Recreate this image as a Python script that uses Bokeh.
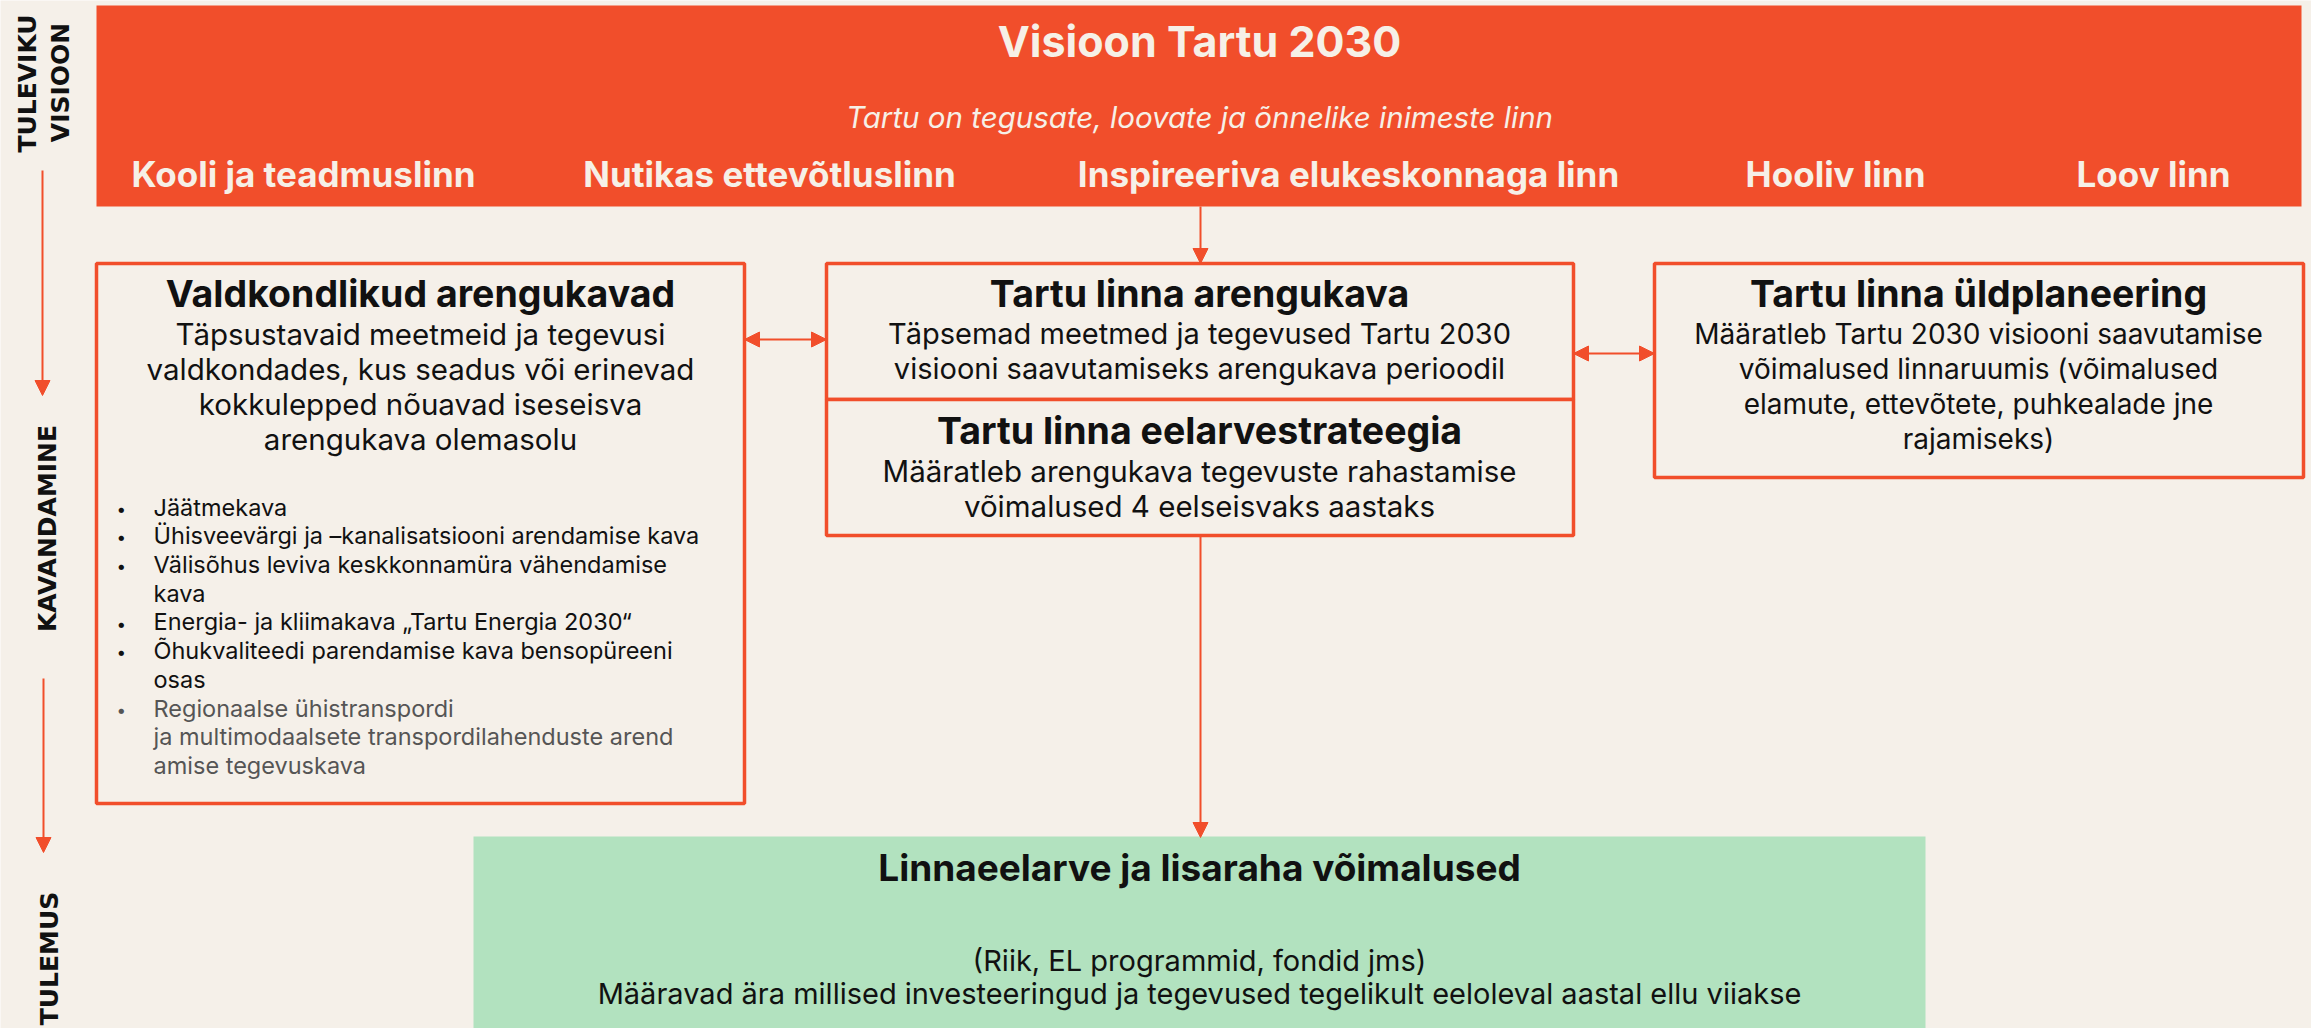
import math
from bokeh.plotting import figure
from bokeh.models import Range1d, Arrow, NormalHead
from bokeh.core.properties import value
from bokeh.embed import file_html
from bokeh.resources import INLINE

# ---------------- content ----------------
stage_labels = ["TULEVIKU", "VISIOON", "KAVANDAMINE", "TULEMUS"]
vision_title = "Visioon Tartu 2030"
vision_motto = "Tartu on tegusate, loovate ja õnnelike inimeste linn"
pillars = ["Kooli ja teadmuslinn", "Nutikas ettevõtluslinn",
           "Inspireeriva elukeskonnaga linn", "Hooliv linn", "Loov linn"]

sector_title = "Valdkondlikud arengukavad"
sector_body = ["Täpsustavaid meetmeid ja tegevusi",
               "valdkondades, kus seadus või erinevad",
               "kokkulepped nõuavad iseseisva",
               "arengukava olemasolu"]
sector_plans = [["Jäätmekava"],
                ["Ühisveevärgi ja –kanalisatsiooni arendamise kava"],
                ["Välisõhus leviva keskkonnamüra vähendamise", "kava"],
                ["Energia- ja kliimakava „Tartu Energia 2030“"],
                ["Õhukvaliteedi parendamise kava bensopüreeni", "osas"],
                ["Regionaalse ühistranspordi",
                 "ja multimodaalsete transpordilahenduste arend",
                 "amise tegevuskava"]]
sector_plan_muted = [False, False, False, False, False, True]

dev_title = "Tartu linna arengukava"
dev_body = ["Täpsemad meetmed ja tegevused Tartu 2030",
            "visiooni saavutamiseks arengukava perioodil"]
budget_title = "Tartu linna eelarvestrateegia"
budget_body = ["Määratleb arengukava tegevuste rahastamise",
               "võimalused 4 eelseisvaks aastaks"]
plan_title = "Tartu linna üldplaneering"
plan_body = ["Määratleb Tartu 2030 visiooni saavutamise",
             "võimalused linnaruumis (võimalused",
             "elamute, ettevõtete, puhkealade jne",
             "rajamiseks)"]
result_title = "Linnaeelarve ja lisaraha võimalused"
result_body = ["(Riik, EL programmid, fondid jms)",
               "Määravad ära millised investeeringud ja tegevused tegelikult eeloleval aastal ellu viiakse"]

# ---------------- style ----------------
BG = "#F5F0E9"
ORANGE = "#F14E2B"
GREEN = "#B2E2BF"
INK = "#111111"
GREY = "#555555"
CREAM = "#F6F0E7"
FONT = "Inter"
LABEL_FONT = "DejaVu Sans"
BASE_SHIFT = 0.4   # renderer places 'alphabetic' text lower; compensate (in em)

p = figure(width=2311, height=1028,
           x_range=Range1d(0, 2311), y_range=Range1d(1028, 0),
           x_axis_type=None, y_axis_type=None,
           output_backend="svg", toolbar_location=None, min_border=0)
p.grid.visible = False
p.outline_line_color = None
p.background_fill_color = BG
p.border_fill_color = BG


def txt(x, y, s, size, color=INK, style="normal", align="center",
        baseline="alphabetic", angle=0.0, font=FONT):
    if baseline == "alphabetic":
        y = y - BASE_SHIFT * size
    p.text(x=[x], y=[y], text=[s], text_font=value(font),
           text_font_size=f"{size}px", text_font_style=style,
           text_color=color, text_align=align, text_baseline=baseline,
           angle=angle)


def box(l, r, t, b, fill=None, line=ORANGE, lw=3.5):
    p.quad(left=[l], right=[r], top=[t], bottom=[b],
           fill_color=fill if fill else BG, fill_alpha=1.0,
           line_color=line, line_width=lw)


def arrow(x0, y0, x1, y1, both=False, lw=2):
    head = NormalHead(size=15, fill_color=ORANGE, line_color=ORANGE)
    start = NormalHead(size=15, fill_color=ORANGE, line_color=ORANGE) if both else None
    p.add_layout(Arrow(x_start=x0, y_start=y0, x_end=x1, y_end=y1,
                       end=head, start=start,
                       line_color=ORANGE, line_width=lw))


# ---------------- stage labels (left) ----------------
rot = math.pi / 2
txt(27, 83, stage_labels[0], 25, style="bold", baseline="middle", angle=rot, font=LABEL_FONT)
txt(60, 82, stage_labels[1], 25, style="bold", baseline="middle", angle=rot, font=LABEL_FONT)
txt(47, 528, stage_labels[2], 25, style="bold", baseline="middle", angle=rot, font=LABEL_FONT)
txt(49, 958, stage_labels[3], 25, style="bold", baseline="middle", angle=rot, font=LABEL_FONT)
arrow(42, 170, 42, 395)
arrow(43, 678, 43, 852)

# ---------------- vision banner ----------------
box(96, 2301, 5, 206, fill=ORANGE, line=None, lw=0)
txt(1199, 58, vision_title, 43, color=CREAM, style="bold")
txt(1199, 128, vision_motto, 29.5, color=CREAM, style="italic")
for cx, name in zip([303, 769, 1348, 1835, 2153], pillars):
    txt(cx, 187, name, 35, color=CREAM, style="bold")

# ---------------- planning boxes ----------------
# sector plans (left)
box(96, 744, 263, 803)
txt(420, 308, sector_title, 37.5, style="bold")
for i, line in enumerate(sector_body):
    txt(420, 345 + i * 35, line, 29.5)
y = 516
for lines, muted in zip(sector_plans, sector_plan_muted):
    col = GREY if muted else INK
    txt(116, y - 1, "•", 17, color=col, align="left")
    for ln in lines:
        txt(153, y, ln, 23.5, color=col, align="left")
        y += 28.7

# development plan + budget strategy (middle)
box(826, 1573, 263, 399)
box(826, 1573, 399, 535)
txt(1199, 308, dev_title, 37.5, style="bold")
for i, line in enumerate(dev_body):
    txt(1199, 345 + i * 35, line, 29)
txt(1199, 445, budget_title, 37.5, style="bold")
for i, line in enumerate(budget_body):
    txt(1199, 482 + i * 35, line, 29.5)

# comprehensive plan (right)
box(1654, 2303, 263, 477)
txt(1978, 308, plan_title, 37.5, style="bold")
for i, line in enumerate(plan_body):
    txt(1978, 345 + i * 35, line, 28)

# connecting arrows
arrow(1200, 206, 1200, 263)
arrow(744, 339, 826, 339, both=True)
arrow(1573, 353, 1654, 353, both=True)
arrow(1200, 535, 1200, 837)

# ---------------- result ----------------
box(473, 1925, 836, 1040, fill=GREEN, line=None, lw=0)
txt(1199, 882, result_title, 37, style="bold")
txt(1199, 972, result_body[0], 29)
txt(1199, 1005, result_body[1], 29)

html = file_html(p, INLINE)
html = html.replace("<body>", f'<body style="background-color:{BG};">', 1)
open("out.html", "w").write(html)
